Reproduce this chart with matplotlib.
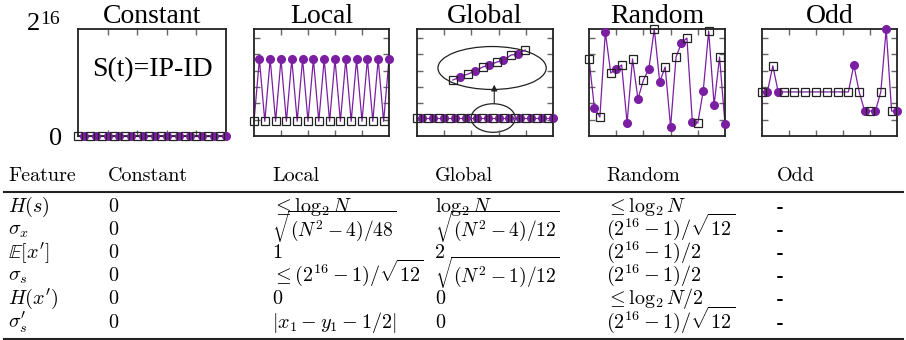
import numpy as np
import matplotlib.pyplot as plt
from matplotlib.patches import Ellipse
from matplotlib.lines import Line2D

plt.rcParams['mathtext.fontset'] = 'cm'

PURPLE = '#7b1fa2'
SERIF = 'Liberation Serif'

# --- panel data (IP-ID value per sample, 26 samples, x = 0..25) ---
titles = ['Constant', 'Local', 'Global', 'Random', 'Odd']

const_y = [0, 0, 0, 0, 0, 0, 0, 0, 0, 0, 0, 0, 0,
           0, 0, 0, 0, 0, 0, 0, 0, 0, 0, 0, 0, 0]
local_y = [9000, 47000, 9000, 47000, 9000, 47000, 9000, 47000, 9000, 47000,
           9000, 47000, 9000, 47000, 9000, 47000, 9000, 47000, 9000, 47000,
           9000, 47000, 9000, 47000, 9000, 47000]
global_y = [11000, 11000, 11000, 11000, 11000, 11000, 11000, 11000, 11000,
            11000, 11000, 11000, 11000, 11000, 11000, 11000, 11000, 11000,
            11000, 11000, 11000, 11000, 11000, 11000, 11000, 11000]
random_y = [47200, 17100, 11600, 63700, 38600, 41000, 43500, 8000, 47200,
            22700, 34300, 41000, 65500, 33100, 42300, 5500, 48400, 57000,
            60000, 8600, 8000, 27600, 64300, 19000, 48400, 7300]
odd_y = [27000, 27000, 43000, 27000, 27000, 27000, 27000, 27000, 27000,
         27000, 27000, 27000, 27000, 27000, 27000, 27000, 27000, 43500,
         27000, 15300, 15300, 15300, 27000, 65536, 15300, 15300]
odd_no_dot = [5, 7, 9, 11, 13, 15]

# zoomed-in view drawn inside the Global panel
zoom_sq_x = [6.6, 9.4, 12.1, 14.7, 17.3, 19.9]
zoom_sq_y = [34300, 38000, 42300, 45300, 49600, 52700]
zoom_ci_x = [7.9, 10.7, 13.3, 15.9, 18.6]
zoom_ci_y = [36100, 39800, 43500, 46500, 50200]

# --- table ---
col_names = ['Feature', 'Constant', 'Local', 'Global', 'Random', 'Odd']
features = [r'$H(s)$', r'$\sigma_x$', r'$\mathbb{E}[x^\prime]$', r'$\sigma_s$',
            r'$H(x^\prime)$', r'$\sigma_s^\prime$']
col_constant = ['0', '0', '0', '0', '0', '0']
col_local = [r'$\leq \log_2 N$', r'$\sqrt{(N^2-4)/48}$', '1',
             r'$\leq (2^{16}-1)/\sqrt{12}$', '0', r'$|x_1-y_1-1/2|$']
col_global = [r'$\log_2 N$', r'$\sqrt{(N^2-4)/12}$', '2',
              r'$\sqrt{(N^2-1)/12}$', '0', '0']
col_random = [r'$\leq \log_2 N$', r'$(2^{16}-1)/\sqrt{12}$', r'$(2^{16}-1)/2$',
              r'$(2^{16}-1)/2$', r'$\leq \log_2 N/2$', r'$(2^{16}-1)/\sqrt{12}$']
col_odd = ['-', '-', '-', '-', '-', '-']

W, H = 906, 340
fig = plt.figure(figsize=(W / 100, H / 100), dpi=100)


def box(l, r):
    return [l / W, 1 - 136 / H, (r - l) / W, 107 / H]


def draw(ax, y, no_dot=()):
    x = np.arange(len(y))
    ax.plot(x, y, color=PURPLE, lw=0.9, clip_on=False, zorder=2)
    ci = [i for i in x[1::2] if i not in no_dot]
    ax.plot(ci, [y[i] for i in ci], 'o', color=PURPLE, ms=5.5,
            clip_on=False, zorder=3)
    ax.plot(x[::2], [y[i] for i in x[::2]], 's', mfc='none', mec='#222',
            ms=6.3, mew=0.9, clip_on=False, zorder=4)


boxes = [box(78, 226), box(254, 389), box(417, 553), box(589, 725), box(762, 897)]
data = [const_y, local_y, global_y, random_y, odd_y]

axes = []
for i, (b, y, t) in enumerate(zip(boxes, data, titles)):
    ax = fig.add_axes(b)
    draw(ax, y, odd_no_dot if t == 'Odd' else ())
    ax.set_xlim(0, 25)
    ax.set_ylim(0, 65536)
    ax.set_xticks([5, 10, 15, 20])
    if i == 0:
        ax.set_yticks([])
    else:
        ax.set_yticks([10000, 20000, 30000, 40000, 50000, 60000])
    ax.tick_params(direction='in', length=4, width=1, color='#666',
                   top=True, right=True, labelbottom=False, labelleft=False)
    for s in ax.spines.values():
        s.set_linewidth(1.3)
        s.set_color('#222')
    ax.set_title(t, fontsize=20, family=SERIF, pad=3)
    axes.append(ax)

# Constant panel labels
ax0 = axes[0]
ax0.text(0.5, 0.62, 'S(t)=IP-ID', fontsize=20, family=SERIF,
         ha='center', va='center', transform=ax0.transAxes)
fig.text(62 / W, 1 - 139 / H, '0', fontsize=19, family=SERIF, ha='right', va='center')
fig.text(40 / W, 1 - 24 / H, '2', fontsize=19, family=SERIF, ha='right', va='center')
fig.text(40 / W, 1 - 20 / H, '16', fontsize=14, family=SERIF, ha='left', va='center')

# Global panel zoom annotation
axg = axes[2]
zx = [v for pair in zip(zoom_sq_x, zoom_ci_x + [None]) for v in pair if v is not None]
zy = [v for pair in zip(zoom_sq_y, zoom_ci_y + [None]) for v in pair if v is not None]
axg.plot(zx, zy, color=PURPLE, lw=0.9, zorder=2)
axg.plot(zoom_ci_x, zoom_ci_y, 'o', color=PURPLE, ms=5.5, zorder=3)
axg.plot(zoom_sq_x, zoom_sq_y, 's', mfc='none', mec='#222', ms=6.3, mew=0.9, zorder=4)
axg.add_patch(Ellipse((14.0, 11000), 8.1, 17500, fill=False, lw=0.9, ec='#222'))
axg.add_patch(Ellipse((13.8, 41650), 19.9, 26300, fill=False, lw=0.9, ec='#222'))
axg.annotate('', xy=(14.2, 33100), xytext=(14.2, 18400),
             arrowprops=dict(arrowstyle='-|>', lw=0.8, color='#222', mutation_scale=9))

# --- table drawn as figure text ---
col_x = [8, 108, 272, 435, 606, 777]
fs = 14.5
for name, cx in zip(col_names, col_x):
    fig.text(cx / W, 1 - 181 / H, name, fontsize=fs, family='cmr10', va='baseline')

columns = [features, col_constant, col_local, col_global, col_random, col_odd]
row_base = [212, 235, 258, 281, 304, 328]
for j, (col, cx) in enumerate(zip(columns, col_x)):
    fam = 'cmb10' if j == len(columns) - 1 else 'cmr10'
    for s, ry in zip(col, row_base):
        if s.startswith(r'$\sqrt'):
            # big radicals sit a little lower so they clear the row above
            fig.text(cx / W, 1 - (ry + 2) / H, s, fontsize=fs - 0.5,
                     family=fam, va='baseline')
        else:
            fig.text(cx / W, 1 - ry / H, s, fontsize=fs, family=fam, va='baseline')

for ry in (191.5, 338.5):
    fig.add_artist(Line2D([4 / W, 903 / W], [1 - ry / H, 1 - ry / H],
                          color='#222', lw=1.5))

fig.savefig('out.png', dpi=100)
